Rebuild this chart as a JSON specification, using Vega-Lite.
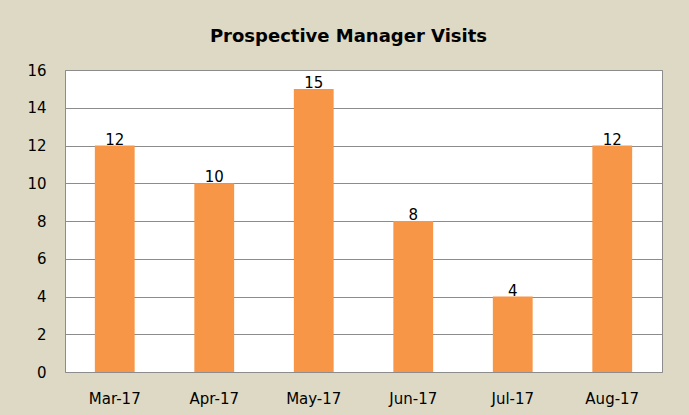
{
  "$schema": "https://vega.github.io/schema/vega-lite/v6.json",
  "autosize": {"type": "none"},
  "width": 597,
  "height": 302,
  "padding": {"left": 65, "top": 70, "right": 27, "bottom": 43},
  "background": "#DDD9C4",
  "title": {
    "text": "Prospective Manager Visits",
    "font": "DejaVu Sans",
    "fontSize": 18,
    "fontWeight": "bold",
    "color": "#000000",
    "anchor": "middle",
    "frame": "bounds",
    "offset": 17,
    "dx": 4
  },
  "config": {
    "view": {"fill": "#FFFFFF", "stroke": "#8C8C8C", "strokeWidth": 1},
    "font": "DejaVu Sans"
  },
  "data": {
    "values": [
      {"month": "Mar-17", "visits": 12},
      {"month": "Apr-17", "visits": 10},
      {"month": "May-17", "visits": 15},
      {"month": "Jun-17", "visits": 8},
      {"month": "Jul-17", "visits": 4},
      {"month": "Aug-17", "visits": 12}
    ]
  },
  "encoding": {
    "x": {
      "field": "month",
      "type": "nominal",
      "sort": null,
      "scale": {"paddingInner": 0.6, "paddingOuter": 0.3},
      "axis": {
        "title": null,
        "labelAngle": 0,
        "labelFont": "DejaVu Sans",
        "labelFontSize": 15,
        "labelColor": "#000000",
        "labelPadding": 19,
        "ticks": false,
        "domain": false
      }
    },
    "y": {
      "field": "visits",
      "type": "quantitative",
      "scale": {"domain": [0, 16]},
      "axis": {
        "title": null,
        "values": [0, 2, 4, 6, 8, 10, 12, 14, 16],
        "labelFont": "DejaVu Sans",
        "labelFontSize": 15,
        "labelColor": "#000000",
        "labelPadding": 19,
        "ticks": false,
        "domain": false,
        "gridColor": "#8C8C8C",
        "gridWidth": 1,
        "gridOpacity": 1
      }
    }
  },
  "layer": [
    {
      "mark": {"type": "bar", "color": "#F79646"}
    },
    {
      "mark": {"type": "text", "baseline": "alphabetic", "dy": -1, "fontSize": 15, "font": "DejaVu Sans", "color": "#000000"},
      "encoding": {"text": {"field": "visits", "type": "quantitative"}}
    }
  ]
}
